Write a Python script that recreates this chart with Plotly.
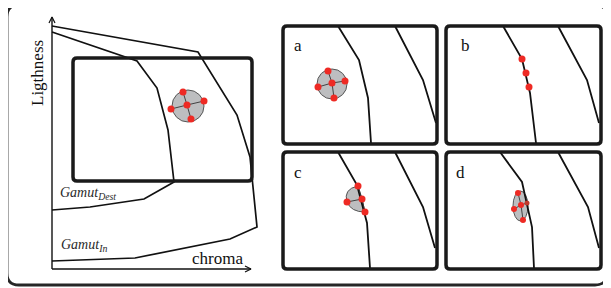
import plotly.graph_objects as go

W, H = 611, 288
PAGE_OFFSET = 8  # browser body margin; axis ranges shifted so units == window pixels

# ---- diagram data (drawing units = reference pixels) ----
axis_y = [(52, 269), (52, 17)]
axis_x = [(52, 269), (251, 269)]
arrow_y = [(49, 23), (52, 17), (55, 23)]
arrow_x = [(245, 266), (251, 269), (245, 272)]

gamut_in = [(52, 26), (198, 52), (237, 115), (250, 157), (257, 227),
            (230, 239), (135, 258), (52, 261)]
gamut_dest = [(52, 32), (127, 58), (137, 61), (157, 88), (168, 130),
              (174, 182), (144, 199), (90, 207), (52, 210)]

zoom_box = (73, 58, 252, 181)
big_circle = (188, 106, 16)
big_dots = [(183, 92), (204, 101), (171, 109), (191, 119)]
big_center = (187, 105)

panels = {
    "a": (283, 26, 437, 144),
    "b": (446, 26, 601, 144),
    "c": (283, 152, 437, 269),
    "d": (446, 152, 601, 269),
}
panel_labels = {"a": (298, 45), "b": (465, 45), "c": (298, 172), "d": (460, 172)}

lines_a = [[(338, 26), (359, 60), (368, 98), (371, 143)],
           [(395, 26), (423, 80), (436, 123)]]
lines_b = [[(503, 26), (522, 59), (530, 93), (536, 143)],
           [(558, 26), (587, 80), (599, 123)]]
lines_c = [[(338, 152), (357, 185), (367, 223), (370, 268)],
           [(395, 152), (423, 207), (435, 248)]]
lines_d = [[(500, 152), (522, 182), (532, 227), (534, 268)],
           [(558, 152), (588, 207), (599, 248)]]

a_circle = (332, 84, 15)
a_dots = [(328, 71), (345, 81), (318, 87), (334, 98)]
a_center = (332, 83)

b_dots = [(522, 59), (526, 73), (529, 87)]

c_dots = [(358, 186), (347, 202), (365, 212)]
c_center = (362, 199)

d_dots = [(518, 193), (514, 209), (523, 220)]
d_center = (521, 205)
d_edge_dot = (527, 203)

RED = "#ee2a24"
GRAY = "#bdbec0"
EDGE = "#555555"
INK = "#111111"

fig = go.Figure()


def poly(pts, width=1.7, color=INK):
    fig.add_trace(go.Scatter(x=[p[0] for p in pts], y=[p[1] for p in pts],
                             mode="lines", line=dict(color=color, width=width),
                             hoverinfo="skip", showlegend=False))


def dots(pts, size=7, color=RED):
    fig.add_trace(go.Scatter(x=[p[0] for p in pts], y=[p[1] for p in pts],
                             mode="markers", marker=dict(color=color, size=size, line=dict(width=0)),
                             hoverinfo="skip", showlegend=False))


def spokes(center, pts):
    for p in pts:
        poly([center, p], width=0.9, color="#333333")


def rounded_rect(x0, y0, x1, y1, r, width, color):
    path = (f"M{x0+r},{y0} L{x1-r},{y0} Q{x1},{y0} {x1},{y0+r} "
            f"L{x1},{y1-r} Q{x1},{y1} {x1-r},{y1} L{x0+r},{y1} "
            f"Q{x0},{y1} {x0},{y1-r} L{x0},{y0+r} Q{x0},{y0} {x0+r},{y0} Z")
    fig.add_shape(type="path", path=path, xref="x", yref="y",
                  line=dict(color=color, width=width), layer="above")


def circle(c, fill=GRAY):
    cx, cy, r = c
    fig.add_shape(type="circle", xref="x", yref="y", x0=cx - r, x1=cx + r,
                  y0=cy - r, y1=cy + r, fillcolor=fill,
                  line=dict(color=EDGE, width=1), layer="below")


# outer frame
rounded_rect(7, 5, 607, 285, 12, 2.8, "#262626")

# left diagram
poly(gamut_in)
poly(gamut_dest)
rounded_rect(*zoom_box, 4, 3.5, "#1a1a1a")
circle(big_circle)
spokes(big_center, big_dots)
dots(big_dots + [big_center])

# axes with arrows
poly(axis_y, width=1.4)
poly(axis_x, width=1.4)
poly(arrow_y, width=1.2)
poly(arrow_x, width=1.2)

# panels
for k, (x0, y0, x1, y1) in panels.items():
    rounded_rect(x0, y0, x1, y1, 4, 3.5, "#1a1a1a")
for ls in (lines_a, lines_b, lines_c, lines_d):
    for l in ls:
        poly(l, width=1.8)

# panel a
circle(a_circle)
spokes(a_center, a_dots)
dots(a_dots + [a_center])

# panel b
dots(b_dots)

# panel c half disc
fig.add_shape(type="path", xref="x", yref="y",
              path=f"M{c_dots[0][0]},{c_dots[0][1]} Q{343},{189} {c_dots[1][0]},{c_dots[1][1]} "
                   f"Q{351},{212} {c_dots[2][0]},{c_dots[2][1]} L{c_center[0]},{c_center[1]} Z",
              fillcolor=GRAY, line=dict(color=EDGE, width=1), layer="below")
spokes(c_center, c_dots)
dots(c_dots + [c_center])

# panel d narrow ellipse
fig.add_shape(type="circle", xref="x", yref="y", x0=513, x1=528, y0=191, y1=221,
              fillcolor=GRAY, line=dict(color=EDGE, width=1), layer="below")
spokes(d_center, d_dots + [d_edge_dot])
dots(d_dots + [d_center], size=6)
dots([d_edge_dot], size=5, color="#c0392b")

# text
SERIF = "Liberation Serif, Times New Roman, serif"
for k, (x, y) in panel_labels.items():
    fig.add_annotation(x=x, y=y, text=k, showarrow=False, xref="x", yref="y",
                       font=dict(family=SERIF, size=17, color=INK))
fig.add_annotation(x=37, y=73, text="Ligthness", textangle=-90, showarrow=False,
                   xref="x", yref="y", font=dict(family=SERIF, size=17, color=INK))
fig.add_annotation(x=217, y=258, text="chroma", showarrow=False,
                   xref="x", yref="y", font=dict(family=SERIF, size=17, color=INK))
fig.add_annotation(x=58, y=193, text="<i>Gamut<sub>Dest</sub></i>", showarrow=False,
                   xanchor="left", xref="x", yref="y", font=dict(family=SERIF, size=14, color="#2a2a2a"))
fig.add_annotation(x=59, y=245, text="<i>Gamut<sub>In</sub></i>", showarrow=False,
                   xanchor="left", xref="x", yref="y", font=dict(family=SERIF, size=14, color="#2a2a2a"))

fig.update_xaxes(range=[PAGE_OFFSET, W + PAGE_OFFSET], visible=False, fixedrange=True)
fig.update_yaxes(range=[H + PAGE_OFFSET, PAGE_OFFSET], visible=False, fixedrange=True)
fig.update_layout(width=W, height=H, margin=dict(l=0, r=0, t=0, b=0),
                  plot_bgcolor="white", paper_bgcolor="white", showlegend=False)

fig.write_html("out.html")
